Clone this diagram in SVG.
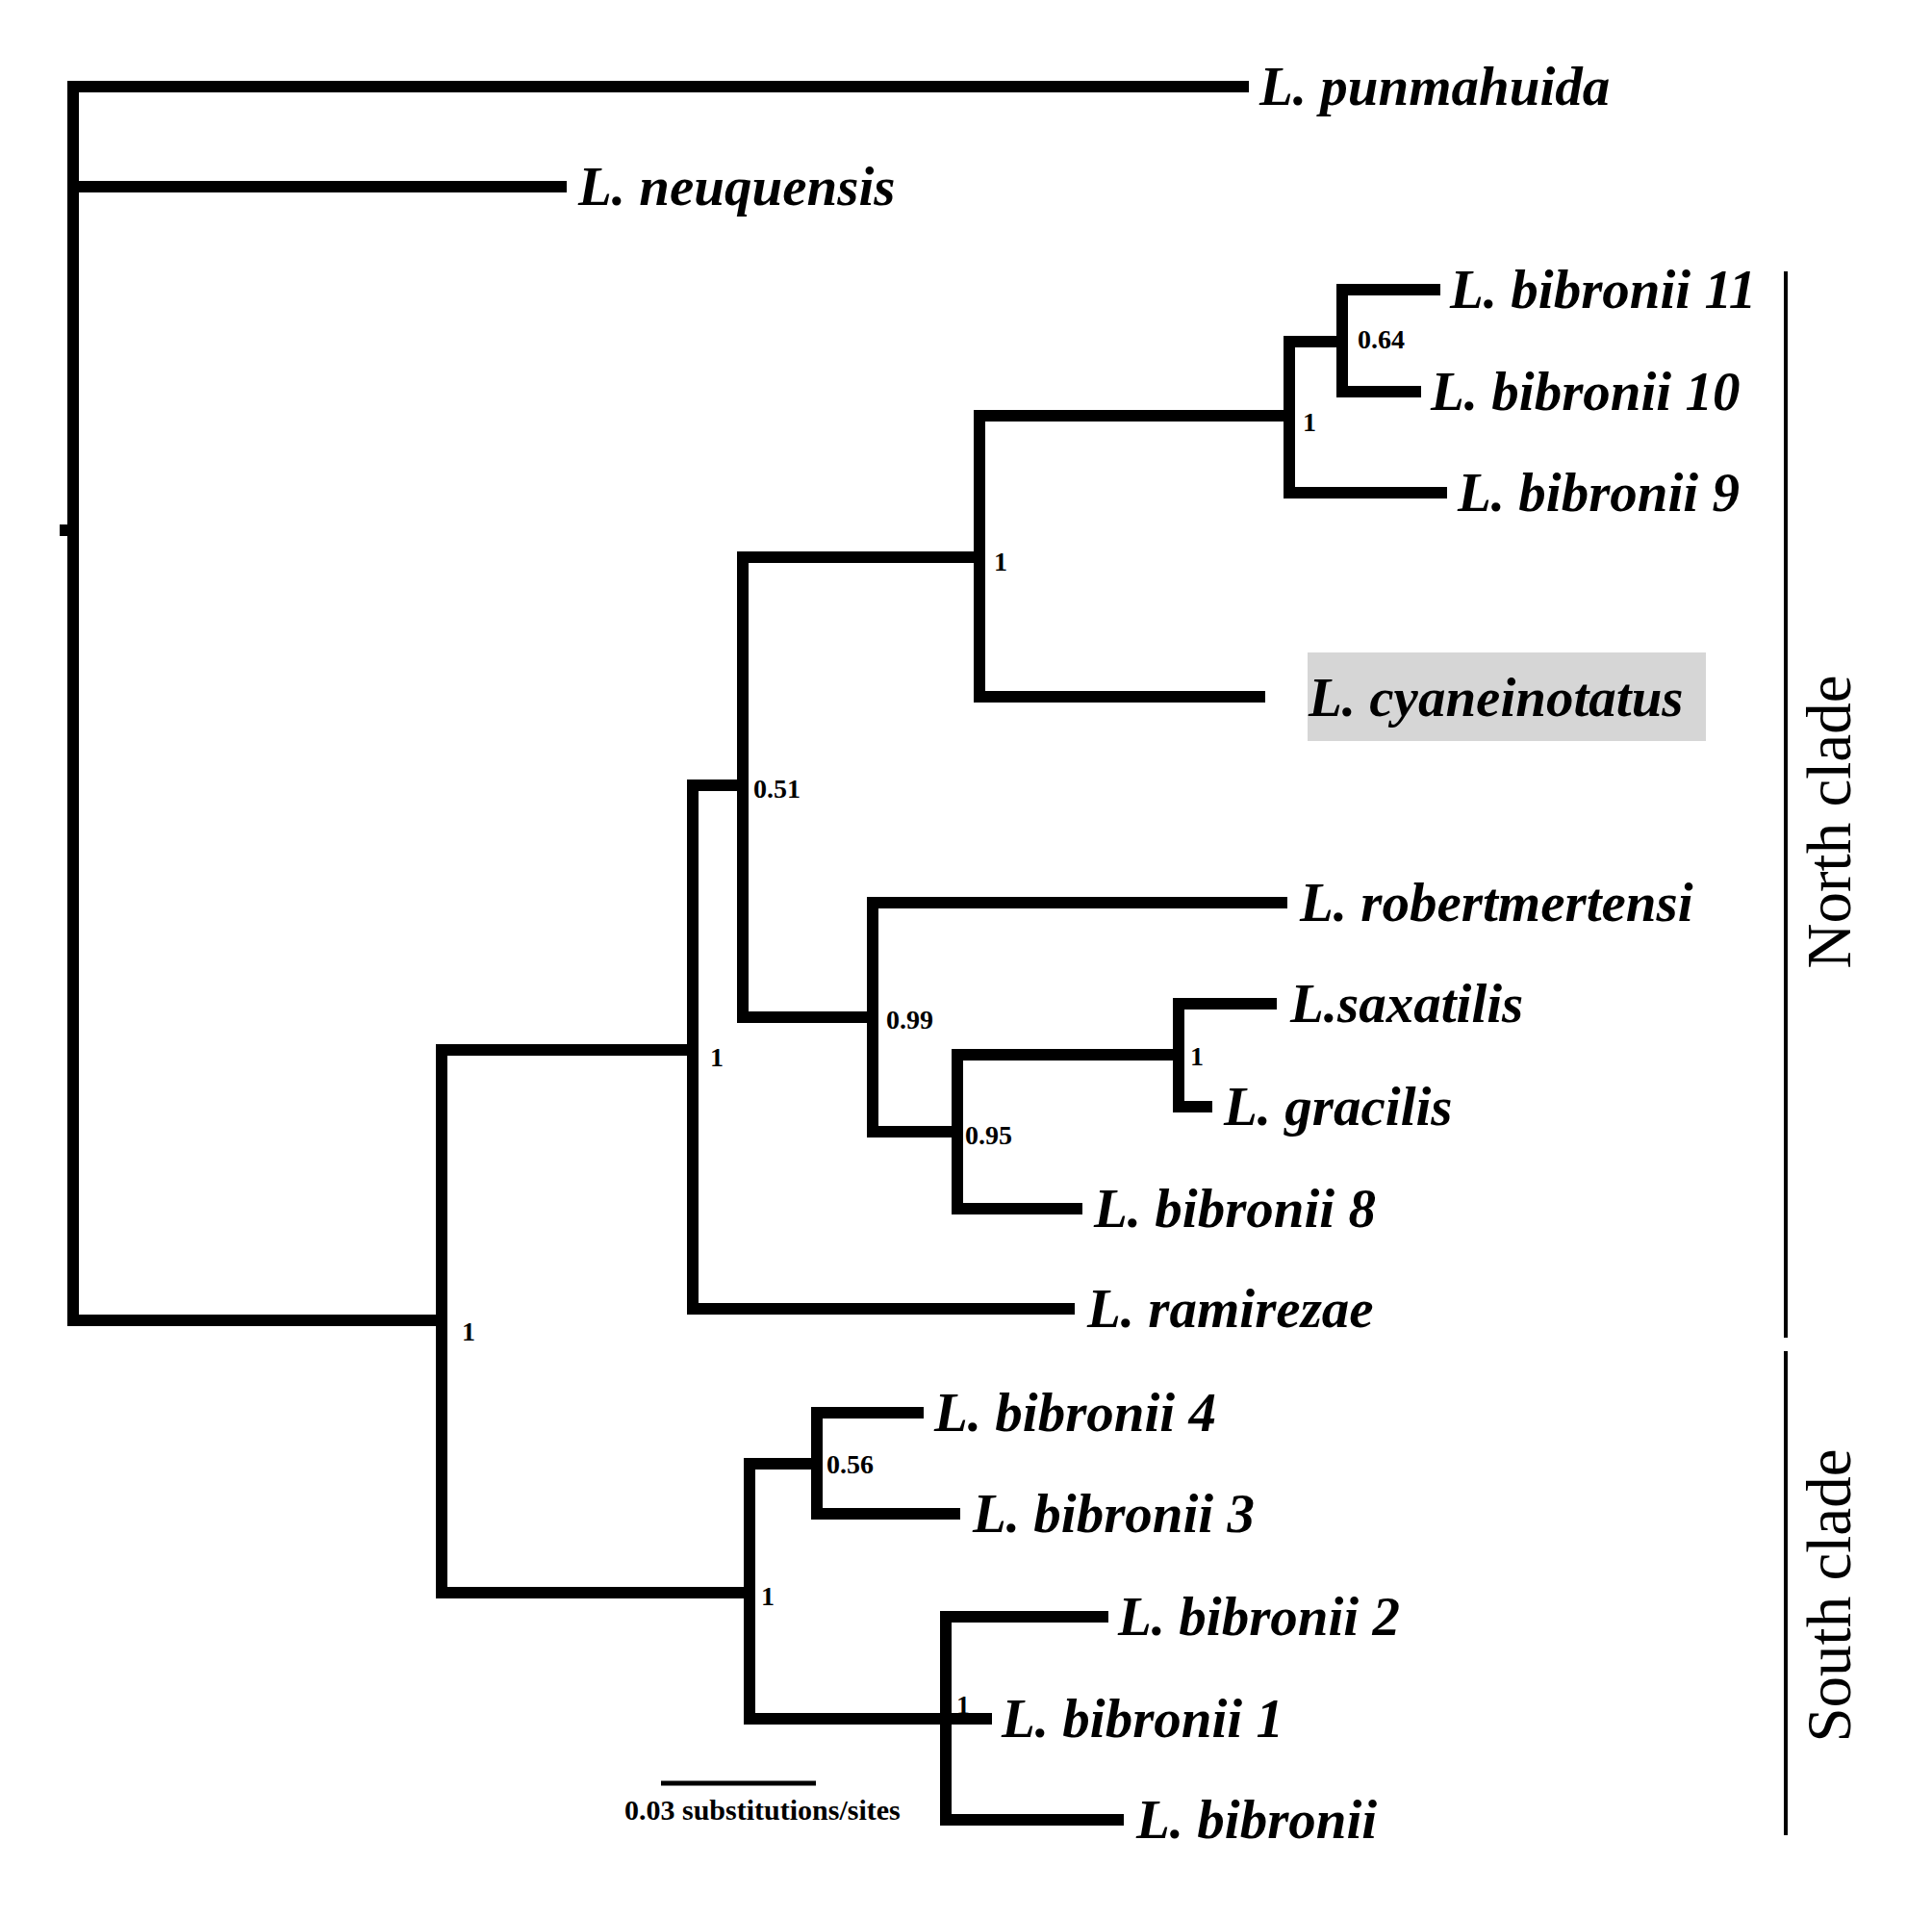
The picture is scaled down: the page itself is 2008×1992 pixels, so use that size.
<svg xmlns="http://www.w3.org/2000/svg" width="2008" height="1992" viewBox="0 0 2008 1992">
<style>
.br{fill:none;stroke:#000;stroke-width:12;stroke-linejoin:miter;stroke-linecap:butt}
.tx{font-family:"Liberation Serif","Times New Roman",serif;font-style:italic;font-weight:bold;font-size:57px;fill:#000}
.sp{font-family:"Liberation Serif","Times New Roman",serif;font-weight:bold;font-size:28px;fill:#000}
.cl{font-family:"Liberation Serif","Times New Roman",serif;font-size:65px;fill:#000;text-anchor:middle}
.bar{stroke:#000;stroke-width:4;fill:none}
</style>
<rect width="2008" height="1992" fill="#fff"/>
<g id="connectors">
<path class="br" d="M1298,90 H76 V1372 H459"/>
<path class="br" d="M76,194 H589"/>
<rect x="62" y="545" width="14" height="12" fill="#000"/>
<path class="br" d="M720,1091 H459 V1655 H779"/>
<path class="br" d="M772,816 H720 V1360 H1117"/>
<path class="br" d="M1018,579 H772 V1057 H907"/>
<path class="br" d="M1340,432 H1018 V724 H1315"/>
<path class="br" d="M1395,355 H1340 V512 H1504"/>
<path class="br" d="M1497,301 H1395 V407 H1477"/>
<path class="br" d="M1338,938 H907 V1176 H995"/>
<path class="br" d="M1225,1096 H995 V1256 H1125"/>
<path class="br" d="M1327,1043 H1225 V1150 H1260"/>
<path class="br" d="M849,1521 H779 V1786 H1031"/>
<path class="br" d="M960,1468 H849 V1573 H998"/>
<path class="br" d="M1152,1680 H983 V1891 H1168"/>
</g>
<g id="taxon-punmahuida"><text class="tx" x="1309" y="109">L. punmahuida</text></g>
<g id="taxon-neuquensis"><text class="tx" x="601" y="213">L. neuquensis</text></g>
<g id="taxon-bibronii11"><text class="tx" x="1507" y="320">L. bibronii 11</text></g>
<g id="taxon-bibronii10"><text class="tx" x="1487" y="426">L. bibronii 10</text></g>
<g id="taxon-bibronii9"><text class="tx" x="1515" y="531">L. bibronii 9</text></g>
<g id="taxon-cyaneinotatus"><rect x="1359" y="678" width="414" height="92" fill="#d6d6d6"/><text class="tx" x="1360" y="744">L. cyaneinotatus</text></g>
<g id="taxon-robertmertensi"><text class="tx" x="1351" y="957">L. robertmertensi</text></g>
<g id="taxon-saxatilis"><text class="tx" x="1341" y="1062">L.saxatilis</text></g>
<g id="taxon-gracilis"><text class="tx" x="1272" y="1169">L. gracilis</text></g>
<g id="taxon-bibronii8"><text class="tx" x="1137" y="1275">L. bibronii 8</text></g>
<g id="taxon-ramirezae"><text class="tx" x="1130" y="1379">L. ramirezae</text></g>
<g id="taxon-bibronii4"><text class="tx" x="971" y="1487">L. bibronii 4</text></g>
<g id="taxon-bibronii3"><text class="tx" x="1011" y="1592">L. bibronii 3</text></g>
<g id="taxon-bibronii2"><text class="tx" x="1162" y="1699">L. bibronii 2</text></g>
<g id="taxon-bibronii1"><text class="tx" x="1041" y="1805">L. bibronii 1</text></g>
<g id="taxon-bibronii"><text class="tx" x="1181" y="1910">L. bibronii</text></g>
<g id="support-labels">
<text class="sp" x="1411" y="362">0.64</text>
<text class="sp" x="1354" y="448">1</text>
<text class="sp" x="1033" y="593">1</text>
<text class="sp" x="783" y="829">0.51</text>
<text class="sp" x="738" y="1108">1</text>
<text class="sp" x="480" y="1393">1</text>
<text class="sp" x="921" y="1069">0.99</text>
<text class="sp" x="1003" y="1189">0.95</text>
<text class="sp" x="1237" y="1107">1</text>
<text class="sp" x="791" y="1668">1</text>
<text class="sp" x="859" y="1531">0.56</text>
<text class="sp" x="994" y="1781">1</text>
</g>
<g id="clade-north">
<line class="bar" x1="1856" y1="282" x2="1856" y2="1390"/>
<text class="cl" transform="translate(1923,854) rotate(-90)">North clade</text>
</g>
<g id="clade-south">
<line class="bar" x1="1856" y1="1404" x2="1856" y2="1907"/>
<text class="cl" transform="translate(1923,1658) rotate(-90)">South clade</text>
</g>
<g id="scale-bar">
<line x1="687" y1="1853" x2="848" y2="1853" stroke="#000" stroke-width="5"/>
<text class="sp" x="649" y="1891" style="font-size:30px">0.03 substitutions/sites</text>
</g>
</svg>
